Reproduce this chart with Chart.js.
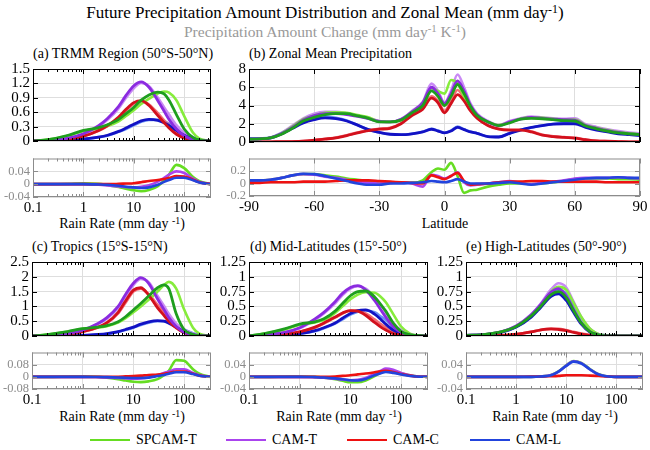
<!DOCTYPE html>
<html>
<head>
<meta charset="utf-8">
<script src="https://cdn.jsdelivr.net/npm/chart.js@4.4.0/dist/chart.umd.min.js"></script>
<style>
  body { margin: 0; width: 650px; height: 450px; position: relative; overflow: hidden; background: #fff;
         font-family: 'Liberation Serif', 'Times New Roman', Times, 'DejaVu Serif', 'Noto Serif', serif; color: #000; }
  canvas { position: absolute; }
  .txt { position: absolute; white-space: nowrap; }
  .sup { font-size: 70%; position: relative; top: -0.45em; }
  .key { position: absolute; height: 2px; }
</style>
</head>
<body>
<div class="txt" style="left:0;width:650px;text-align:center;top:3px;font-size:17px;line-height:20px;">Future Precipitation Amount Distribution and Zonal Mean (mm day<span class="sup">-1</span>)</div>
<div class="txt" style="left:0;width:650px;text-align:center;top:23px;font-size:15.5px;line-height:18px;color:#999;">Precipitation Amount Change (mm day<span class="sup">-1</span> K<span class="sup">-1</span>)</div>

<div class="txt" style="left:33px;top:46px;font-size:14px;line-height:16px;">(a) TRMM Region (50°S-50°N)</div>
<div class="txt" style="left:249px;top:46px;font-size:14px;line-height:16px;">(b) Zonal Mean Precipitation</div>
<div class="txt" style="left:32px;top:239px;font-size:14px;line-height:16px;">(c) Tropics (15°S-15°N)</div>
<div class="txt" style="left:250px;top:239px;font-size:14px;line-height:16px;">(d) Mid-Latitudes (15°-50°)</div>
<div class="txt" style="left:466px;top:239px;font-size:14px;line-height:16px;">(e) High-Latitudes (50°-90°)</div>

<div class="txt" style="left:22px;width:200px;text-align:center;top:216px;font-size:14px;line-height:16px;">Rain Rate (mm day <span class="sup">-1</span>)</div>
<div class="txt" style="left:345px;width:200px;text-align:center;top:216px;font-size:14px;line-height:16px;">Latitude</div>
<div class="txt" style="left:22px;width:200px;text-align:center;top:409px;font-size:14px;line-height:16px;">Rain Rate (mm day <span class="sup">-1</span>)</div>
<div class="txt" style="left:239px;width:200px;text-align:center;top:409px;font-size:14px;line-height:16px;">Rain Rate (mm day <span class="sup">-1</span>)</div>
<div class="txt" style="left:455px;width:200px;text-align:center;top:409px;font-size:14px;line-height:16px;">Rain Rate (mm day <span class="sup">-1</span>)</div>

<div id="legend"></div>

<script>
// ---- data ----
const models = ['SPCAM-T', 'CAM-T', 'CAM-C', 'CAM-L'];
const rainRate = [0.1, 0.2, 0.5, 1, 2, 3, 5, 7, 10, 14, 20, 30, 40, 50, 70, 100, 150, 200, 340];
const latitude = [-90, -85, -80, -75, -70, -65, -60, -55, -50, -45, -40, -35, -30, -25, -20, -15, -10, -6, -3, 0,
  3, 6, 9, 12, 15, 20, 25, 30, 35, 40, 45, 50, 55, 60, 65, 70, 75, 80, 85, 90];

// (a) TRMM region
const trmmSpcamCtl = [0, 0.03, 0.12, 0.22, 0.28, 0.34, 0.45, 0.57, 0.70, 0.85, 0.96, 1.02, 0.98, 0.85, 0.55, 0.25, 0.07, 0.02, 0];
const trmmSpcamWarm = [0, 0.03, 0.11, 0.21, 0.26, 0.31, 0.41, 0.52, 0.64, 0.77, 0.88, 0.99, 1.03, 1.01, 0.85, 0.52, 0.17, 0.05, 0];
const trmmCamTCtl = [0, 0.01, 0.06, 0.15, 0.32, 0.47, 0.72, 0.95, 1.15, 1.23, 1.12, 0.84, 0.62, 0.45, 0.25, 0.11, 0.03, 0.01, 0];
const trmmCamTWarm = [0, 0.01, 0.06, 0.14, 0.30, 0.44, 0.68, 0.90, 1.10, 1.21, 1.14, 0.90, 0.70, 0.55, 0.33, 0.17, 0.06, 0.02, 0];
const trmmCamCCtl = [0, 0.01, 0.04, 0.10, 0.22, 0.32, 0.50, 0.66, 0.80, 0.84, 0.74, 0.53, 0.38, 0.27, 0.14, 0.06, 0.02, 0, 0];
const trmmCamCWarm = [0, 0.01, 0.04, 0.10, 0.21, 0.31, 0.48, 0.63, 0.78, 0.83, 0.76, 0.58, 0.43, 0.33, 0.19, 0.09, 0.03, 0.01, 0];
const trmmCamLCtl = [0, 0, 0.02, 0.04, 0.08, 0.12, 0.20, 0.27, 0.35, 0.42, 0.45, 0.43, 0.38, 0.32, 0.22, 0.12, 0.05, 0.02, 0];
const trmmCamLWarm = [0, 0, 0.02, 0.04, 0.08, 0.11, 0.19, 0.25, 0.33, 0.40, 0.44, 0.44, 0.41, 0.36, 0.27, 0.17, 0.08, 0.03, 0];
const trmmSpcamDiff = [0, 0, 0.001, 0.003, 0.001, -0.003, -0.009, -0.014, -0.019, -0.022, -0.018, -0.006, 0.012, 0.03, 0.06, 0.05, 0.022, 0.009, 0];
const trmmCamTDiff = [0, 0, 0, 0, -0.002, -0.004, -0.007, -0.009, -0.01, -0.008, -0.003, 0.008, 0.02, 0.03, 0.04, 0.035, 0.017, 0.007, 0];
const trmmCamCDiff = [0, 0, 0, 0, 0, 0, 0.001, 0.002, 0.003, 0.006, 0.01, 0.013, 0.016, 0.019, 0.025, 0.024, 0.014, 0.006, 0];
const trmmCamLDiff = [0, 0, 0, 0, -0.001, -0.002, -0.005, -0.008, -0.01, -0.012, -0.01, -0.002, 0.007, 0.013, 0.02, 0.02, 0.012, 0.005, 0];

// (b) zonal mean
const zonalSpcamCtl = [0.3, 0.35, 0.45, 0.85, 1.5, 2.3, 2.7, 3.0, 3.1, 3.1, 2.85, 2.6, 2.2, 2.2, 2.4, 3.2, 4.0, 5.6, 5.0, 4.0,
  5.0, 6.3, 5.3, 3.9, 2.9, 2.2, 1.8, 2.1, 2.5, 2.6, 2.55, 2.45, 2.35, 2.3, 1.75, 1.45, 1.2, 1.0, 0.9, 0.8];
const zonalSpcamWarm = [0.3, 0.35, 0.5, 0.95, 1.7, 2.5, 2.9, 3.2, 3.25, 3.2, 2.95, 2.7, 2.25, 2.2, 2.45, 3.3, 4.3, 5.9, 5.6, 5.3,
  6.8, 6.4, 5.0, 3.7, 2.9, 2.2, 1.85, 2.15, 2.55, 2.7, 2.65, 2.55, 2.45, 2.45, 1.85, 1.55, 1.3, 1.1, 0.95, 0.85];
const zonalCamTCtl = [0.3, 0.35, 0.45, 0.9, 1.6, 2.4, 2.9, 3.1, 3.1, 3.0, 2.8, 2.55, 2.25, 2.2, 2.5, 3.3, 4.3, 6.0, 5.3, 4.2,
  5.3, 6.7, 5.6, 4.0, 3.0, 2.2, 1.8, 2.2, 2.5, 2.7, 2.6, 2.5, 2.45, 2.4, 1.8, 1.5, 1.25, 1.05, 0.9, 0.8];
const zonalCamTWarm = [0.3, 0.35, 0.5, 1.0, 1.8, 2.6, 3.1, 3.3, 3.3, 3.15, 2.9, 2.6, 2.3, 2.2, 2.5, 3.4, 4.4, 6.4, 5.6, 4.3,
  5.6, 7.4, 6.0, 4.2, 3.1, 2.3, 1.85, 2.3, 2.6, 2.8, 2.7, 2.6, 2.55, 2.6, 1.95, 1.65, 1.4, 1.2, 1.05, 0.95];
const zonalCamCCtl = [0, 0, 0.02, 0.03, 0.05, 0.1, 0.2, 0.32, 0.45, 0.7, 1.0, 1.25, 1.4, 1.5, 2.0, 2.9, 3.6, 4.8, 4.3, 3.2,
  4.2, 5.2, 4.5, 3.4, 2.6, 1.8, 1.4, 1.3, 1.3, 1.1, 0.75, 0.6, 0.5, 0.42, 0.25, 0.12, 0.08, 0.05, 0.02, 0];
const zonalCamCWarm = [0, 0, 0.02, 0.03, 0.06, 0.11, 0.22, 0.35, 0.48, 0.74, 1.05, 1.3, 1.45, 1.55, 2.05, 3.0, 3.7, 5.0, 4.5, 3.4,
  4.5, 5.7, 4.8, 3.5, 2.65, 1.8, 1.45, 1.35, 1.35, 1.15, 0.8, 0.63, 0.53, 0.45, 0.28, 0.14, 0.09, 0.06, 0.03, 0.01];
const zonalCamLCtl = [0.35, 0.35, 0.45, 0.9, 1.5, 2.1, 2.45, 2.65, 2.55, 2.3, 1.85, 1.35, 1.05, 0.85, 0.8, 0.9, 1.1, 1.4, 1.2, 1.0,
  1.2, 1.6, 1.35, 1.1, 0.95, 0.6, 0.55, 0.95, 1.3, 1.6, 1.8, 1.95, 2.0, 2.0, 1.6, 1.3, 1.1, 0.9, 0.8, 0.7];
const zonalCamLWarm = [0.38, 0.4, 0.5, 1.0, 1.65, 2.25, 2.6, 2.8, 2.65, 2.35, 1.85, 1.35, 1.05, 0.85, 0.8, 0.9, 1.12, 1.45, 1.25, 1.02,
  1.25, 1.7, 1.4, 1.12, 0.95, 0.6, 0.56, 0.97, 1.33, 1.58, 1.8, 1.97, 2.05, 2.1, 1.7, 1.4, 1.2, 1.0, 0.9, 0.8];
const zonalSpcamDiff = [0.04, 0.05, 0.06, 0.09, 0.13, 0.15, 0.15, 0.13, 0.11, 0.08, 0.06, 0.04, 0.02, 0.01, 0.02, 0.01, 0.05, 0.18, 0.24, 0.22,
  0.33, 0.12, -0.15, -0.11, -0.1, -0.05, -0.02, 0, 0, -0.01, 0, 0.02, 0.04, 0.07, 0.08, 0.08, 0.08, 0.07, 0.07, 0.06];
const zonalCamTDiff = [0.04, 0.05, 0.06, 0.09, 0.13, 0.15, 0.14, 0.11, 0.09, 0.06, 0.03, 0.01, 0, 0.01, 0.02, 0, -0.05, 0.14, 0.12, 0.08,
  0.12, 0.18, 0.02, -0.03, -0.02, 0, 0.02, 0.04, 0.01, -0.01, 0.01, 0.03, 0.05, 0.08, 0.09, 0.09, 0.09, 0.1, 0.09, 0.08];
const zonalCamCDiff = [0.01, 0.01, 0.02, 0.02, 0.02, 0.03, 0.03, 0.03, 0.04, 0.05, 0.05, 0.05, 0.04, 0.03, 0.02, 0.01, 0, 0.13, 0.1, 0.07,
  0.12, 0.17, 0.04, -0.02, -0.01, 0, 0.02, 0.03, 0.03, 0.04, 0.04, 0.03, 0.03, 0.03, 0.03, 0.03, 0.02, 0.02, 0.02, 0.02];
const zonalCamLDiff = [0.05, 0.05, 0.06, 0.09, 0.13, 0.155, 0.15, 0.12, 0.08, 0.04, 0, -0.02, -0.02, 0, 0, 0.01, 0.02, 0.04, 0.03, 0.02,
  0.04, 0.07, 0.03, 0, 0, 0, 0.01, 0.02, 0, -0.02, 0, 0.02, 0.04, 0.06, 0.08, 0.09, 0.09, 0.1, 0.09, 0.09];

// (c) tropics
const tropSpcamCtl = [0, 0.05, 0.15, 0.25, 0.3, 0.35, 0.48, 0.65, 0.88, 1.1, 1.35, 1.63, 1.73, 1.6, 0.75, 0.22, 0.05, 0.01, 0];
const tropSpcamWarm = [0, 0.05, 0.14, 0.24, 0.28, 0.33, 0.45, 0.6, 0.8, 1.0, 1.22, 1.5, 1.72, 1.83, 1.6, 0.9, 0.28, 0.08, 0];
const tropCamTCtl = [0, 0.02, 0.08, 0.2, 0.42, 0.62, 1.0, 1.4, 1.78, 1.97, 1.78, 1.25, 0.9, 0.62, 0.32, 0.13, 0.04, 0.01, 0];
const tropCamTWarm = [0, 0.02, 0.08, 0.19, 0.4, 0.58, 0.95, 1.33, 1.72, 1.93, 1.82, 1.35, 1.02, 0.75, 0.42, 0.22, 0.08, 0.03, 0];
const tropCamCCtl = [0, 0.01, 0.06, 0.15, 0.3, 0.45, 0.8, 1.18, 1.55, 1.63, 1.38, 0.95, 0.7, 0.5, 0.27, 0.11, 0.03, 0.01, 0];
const tropCamCWarm = [0, 0.01, 0.06, 0.14, 0.29, 0.43, 0.76, 1.12, 1.5, 1.6, 1.42, 1.05, 0.8, 0.6, 0.36, 0.18, 0.06, 0.02, 0];
const tropCamLCtl = [0, 0, 0.01, 0.02, 0.05, 0.08, 0.15, 0.22, 0.3, 0.4, 0.48, 0.52, 0.5, 0.43, 0.3, 0.15, 0.05, 0.02, 0];
const tropCamLWarm = [0, 0, 0.01, 0.02, 0.05, 0.07, 0.14, 0.2, 0.28, 0.37, 0.45, 0.5, 0.5, 0.47, 0.36, 0.22, 0.09, 0.03, 0];
const tropSpcamDiff = [0, 0, 0.002, 0.004, 0.001, -0.005, -0.015, -0.024, -0.032, -0.035, -0.03, -0.015, 0.01, 0.04, 0.11, 0.105, 0.05, 0.02, 0];
const tropCamTDiff = [0, 0, 0, 0, -0.002, -0.004, -0.008, -0.01, -0.012, -0.01, -0.004, 0.01, 0.025, 0.035, 0.05, 0.05, 0.025, 0.01, 0];
const tropCamCDiff = [0, 0, 0, 0, 0, 0, 0.001, 0.003, 0.005, 0.008, 0.012, 0.015, 0.02, 0.025, 0.035, 0.035, 0.02, 0.008, 0];
const tropCamLDiff = [0, 0, 0, 0, -0.001, -0.002, -0.004, -0.006, -0.008, -0.008, -0.005, 0.005, 0.012, 0.02, 0.03, 0.03, 0.018, 0.007, 0];

// (d) mid-latitudes
const midSpcamCtl = [0, 0.04, 0.12, 0.2, 0.24, 0.29, 0.42, 0.55, 0.68, 0.75, 0.76, 0.66, 0.53, 0.42, 0.22, 0.08, 0.02, 0.01, 0];
const midSpcamWarm = [0, 0.04, 0.11, 0.19, 0.23, 0.27, 0.39, 0.5, 0.62, 0.7, 0.74, 0.73, 0.66, 0.57, 0.37, 0.16, 0.04, 0.01, 0];
const midCamTCtl = [0, 0.02, 0.06, 0.14, 0.29, 0.4, 0.58, 0.72, 0.82, 0.85, 0.78, 0.6, 0.44, 0.32, 0.16, 0.06, 0.02, 0, 0];
const midCamTWarm = [0, 0.02, 0.06, 0.13, 0.27, 0.38, 0.55, 0.69, 0.8, 0.84, 0.8, 0.66, 0.52, 0.4, 0.22, 0.1, 0.03, 0.01, 0];
const midCamCCtl = [0, 0.01, 0.03, 0.07, 0.15, 0.22, 0.32, 0.39, 0.43, 0.42, 0.35, 0.23, 0.15, 0.1, 0.04, 0.02, 0, 0, 0];
const midCamCWarm = [0, 0.01, 0.03, 0.07, 0.14, 0.21, 0.31, 0.38, 0.43, 0.43, 0.38, 0.28, 0.2, 0.14, 0.07, 0.03, 0.01, 0, 0];
const midCamLCtl = [0, 0, 0.02, 0.04, 0.09, 0.14, 0.22, 0.3, 0.38, 0.43, 0.44, 0.37, 0.28, 0.2, 0.1, 0.04, 0.01, 0, 0];
const midCamLWarm = [0, 0, 0.02, 0.04, 0.08, 0.13, 0.21, 0.28, 0.36, 0.41, 0.43, 0.4, 0.33, 0.27, 0.15, 0.07, 0.02, 0.01, 0];
const midSpcamDiff = [0, 0, 0.001, 0.002, 0, -0.003, -0.008, -0.013, -0.018, -0.018, -0.012, 0.002, 0.015, 0.023, 0.02, 0.012, 0.005, 0.002, 0];
const midCamTDiff = [0, 0, 0, 0, -0.001, -0.003, -0.006, -0.009, -0.011, -0.01, -0.004, 0.01, 0.02, 0.027, 0.023, 0.013, 0.005, 0.002, 0];
const midCamCDiff = [0, 0, 0, 0, 0, 0, 0.001, 0.003, 0.005, 0.008, 0.011, 0.015, 0.018, 0.02, 0.016, 0.009, 0.004, 0.001, 0];
const midCamLDiff = [0, 0, 0, 0, -0.001, -0.002, -0.005, -0.008, -0.011, -0.012, -0.007, 0.005, 0.012, 0.016, 0.013, 0.008, 0.003, 0.001, 0];

// (e) high-latitudes
const highSpcamCtl = [0.01, 0.02, 0.07, 0.16, 0.34, 0.49, 0.7, 0.75, 0.65, 0.43, 0.22, 0.07, 0.03, 0.01, 0, 0, 0, 0, 0];
const highSpcamWarm = [0.01, 0.02, 0.07, 0.16, 0.35, 0.5, 0.75, 0.83, 0.78, 0.56, 0.32, 0.12, 0.05, 0.02, 0.01, 0, 0, 0, 0];
const highCamTCtl = [0.01, 0.02, 0.07, 0.17, 0.36, 0.52, 0.74, 0.8, 0.68, 0.45, 0.22, 0.07, 0.03, 0.01, 0, 0, 0, 0, 0];
const highCamTWarm = [0.01, 0.02, 0.07, 0.17, 0.37, 0.53, 0.79, 0.89, 0.82, 0.58, 0.32, 0.12, 0.05, 0.02, 0.01, 0, 0, 0, 0];
const highCamCCtl = [0, 0, 0.01, 0.03, 0.07, 0.1, 0.12, 0.11, 0.09, 0.06, 0.03, 0.01, 0, 0, 0, 0, 0, 0, 0];
const highCamCWarm = [0, 0, 0.01, 0.03, 0.07, 0.1, 0.12, 0.12, 0.1, 0.07, 0.04, 0.02, 0.01, 0, 0, 0, 0, 0, 0];
const highCamLCtl = [0.01, 0.02, 0.06, 0.15, 0.32, 0.47, 0.67, 0.71, 0.6, 0.4, 0.2, 0.06, 0.02, 0.01, 0, 0, 0, 0, 0];
const highCamLWarm = [0.01, 0.02, 0.06, 0.15, 0.33, 0.48, 0.71, 0.77, 0.72, 0.52, 0.3, 0.11, 0.04, 0.02, 0.01, 0, 0, 0, 0];
const highSpcamDiff = [0, 0, 0, 0, 0, 0.001, 0.006, 0.018, 0.038, 0.052, 0.046, 0.025, 0.012, 0.006, 0.001, 0, 0, 0, 0];
const highCamTDiff = [0, 0, 0, 0, 0, 0.001, 0.006, 0.017, 0.037, 0.051, 0.045, 0.024, 0.011, 0.005, 0.001, 0, 0, 0, 0];
const highCamCDiff = [0, 0, 0, 0, 0.001, 0.001, 0.002, 0.003, 0.005, 0.005, 0.005, 0.004, 0.003, 0.002, 0.001, 0, 0, 0, 0];
const highCamLDiff = [0, 0, 0, 0, 0, 0.001, 0.005, 0.017, 0.036, 0.05, 0.044, 0.024, 0.011, 0.005, 0.001, 0, 0, 0, 0];

// ticks
const rainTicks = [0.1, 1, 10, 100];
const rainMinor = [0.2, 0.3, 0.4, 0.5, 0.6, 0.7, 0.8, 0.9, 2, 3, 4, 5, 6, 7, 8, 9,
  20, 30, 40, 50, 60, 70, 80, 90, 200, 300];
const latTicks = [-90, -60, -30, 0, 30, 60, 90];
const trmmTicks = [0, 0.3, 0.6, 0.9, 1.2, 1.5];
const zonalTicks = [0, 2, 4, 6, 8];
const tropTicks = [0, 0.5, 1, 1.5, 2, 2.5];
const extraTicks = [0, 0.25, 0.5, 0.75, 1, 1.25];
const diffTicksSmall = [-0.04, 0, 0.04];
const diffTicksZonal = [-0.2, 0, 0.2];
const diffTicksTrop = [-0.08, 0, 0.08];

const ctlColors = ['#1e9e1e', '#8b2be0', '#d2101c', '#1212c4'];
const warmColors = ['#86ec3c', '#c98af5', '#f36a74', '#6a90f5'];
const diffColors = ['#66dd22', '#aa44ee', '#ee1111', '#2244dd'];

Chart.defaults.font.family = "'Liberation Serif', 'Times New Roman', Times, 'DejaVu Serif', 'Noto Serif', serif";

const frameTicks = {
  id: 'frameTicks',
  afterDraw(chart, args, o) {
    const { ctx, chartArea: a, scales: { x, y } } = chart;
    ctx.save();
    ctx.strokeStyle = o.color;
    ctx.lineWidth = 1;
    ctx.beginPath();
    const vert = (vals, len) => vals.forEach((v) => {
      const px = Math.round(x.getPixelForValue(v)) + 0.5;
      ctx.moveTo(px, a.top); ctx.lineTo(px, a.top + len);
      ctx.moveTo(px, a.bottom); ctx.lineTo(px, a.bottom - len);
    });
    vert(o.xMajor, 5);
    vert(o.xMinor, 3);
    o.yMajor.forEach((v) => {
      const py = Math.round(y.getPixelForValue(v)) + 0.5;
      ctx.moveTo(a.left, py); ctx.lineTo(a.left + 5, py);
      ctx.moveTo(a.right, py); ctx.lineTo(a.right - 5, py);
    });
    ctx.stroke();
    ctx.strokeRect(a.left + 0.5, a.top + 0.5, a.width - 1, a.height - 1);
    ctx.restore();
  }
};

function pts(xs, ys) {
  return xs.map((x, i) => ({ x, y: ys[i] }));
}

function makePanel(box, cfg) {
  const [l, t, r, b] = box;
  const yw = 40, pt = 8, pr = 12, pb = 2;
  const xh = cfg.xLabels ? 20 : 0;
  const cv = document.createElement('canvas');
  cv.width = r - l + yw + pr;
  cv.height = b - t + pt + xh + pb;
  cv.style.left = (l - yw) + 'px';
  cv.style.top = (t - pt) + 'px';
  document.body.appendChild(cv);
  const frame = cfg.diff ? '#8c8c8c' : '#000';
  return new Chart(cv, {
    type: 'line',
    data: { datasets: cfg.datasets },
    options: {
      responsive: false,
      animation: false,
      events: [],
      layout: { padding: { left: 0, top: pt, right: pr, bottom: pb }, autoPadding: false },
      plugins: {
        legend: { display: false },
        tooltip: { enabled: false },
        frameTicks: { color: frame, xMajor: cfg.xTicks, xMinor: cfg.xMinor, yMajor: cfg.yTicks }
      },
      elements: { point: { radius: 0 }, line: { cubicInterpolationMode: 'monotone' } },
      scales: {
        x: {
          type: cfg.xType, min: cfg.xMin, max: cfg.xMax,
          afterFit: (s) => { s.height = xh; },
          afterBuildTicks: (s) => { s.ticks = cfg.xTicks.map((v) => ({ value: v })); },
          grid: { color: '#dedede', drawTicks: false },
          border: { display: false },
          ticks: {
            display: !!cfg.xLabels, color: '#000', font: { size: 15 }, padding: 2,
            maxRotation: 0, autoSkip: false, callback: (v) => String(v)
          }
        },
        y: {
          min: cfg.yMin, max: cfg.yMax,
          afterFit: (s) => { s.width = yw; },
          afterBuildTicks: (s) => { s.ticks = cfg.yTicks.map((v) => ({ value: v })); },
          grid: { color: '#dedede', drawTicks: false },
          border: { display: false },
          ticks: {
            color: cfg.diff ? '#8c8c8c' : '#000', font: { size: cfg.diff ? 12.5 : 15 }, padding: 3,
            autoSkip: false, callback: (v) => String(v)
          }
        }
      }
    },
    plugins: [frameTicks]
  });
}

function mainSets(xs, ctl, warm) {
  const sets = [];
  ctl.forEach((ys, i) => {
    sets.push({ data: pts(xs, warm[i]), borderColor: warmColors[i], borderWidth: 2.6, order: 10 + i });
  });
  ctl.forEach((ys, i) => {
    sets.push({ data: pts(xs, ys), borderColor: ctlColors[i], borderWidth: 2.8, order: 1 + i });
  });
  return sets;
}

function diffSets(xs, diffs) {
  return diffs.map((ys, i) => ({ data: pts(xs, ys), borderColor: diffColors[i], borderWidth: 2.6, order: 4 - i }));
}

const logMain = { xType: 'logarithmic', xMin: 0.1, xMax: 340, xTicks: rainTicks, xMinor: rainMinor };

// (a)
makePanel([33, 65, 211, 151], Object.assign({}, logMain, {
  yMin: 0, yMax: 1.5, yTicks: trmmTicks,
  datasets: mainSets(rainRate,
    [trmmSpcamCtl, trmmCamTCtl, trmmCamCCtl, trmmCamLCtl],
    [trmmSpcamWarm, trmmCamTWarm, trmmCamCWarm, trmmCamLWarm])
}));
makePanel([33, 156, 211, 197], Object.assign({}, logMain, {
  diff: true, xLabels: true, yMin: -0.04, yMax: 0.08, yTicks: diffTicksSmall,
  datasets: diffSets(rainRate, [trmmSpcamDiff, trmmCamTDiff, trmmCamCDiff, trmmCamLDiff])
}));

// (b)
const latAxis = { xType: 'linear', xMin: -90, xMax: 90, xTicks: latTicks, xMinor: [] };
makePanel([249, 65, 640, 152], Object.assign({}, latAxis, {
  yMin: 0, yMax: 8, yTicks: zonalTicks,
  datasets: mainSets(latitude,
    [zonalSpcamCtl, zonalCamTCtl, zonalCamCCtl, zonalCamLCtl],
    [zonalSpcamWarm, zonalCamTWarm, zonalCamCWarm, zonalCamLWarm])
}));
makePanel([249, 156, 640, 196], Object.assign({}, latAxis, {
  diff: true, xLabels: true, yMin: -0.2, yMax: 0.4, yTicks: diffTicksZonal,
  datasets: diffSets(latitude, [zonalSpcamDiff, zonalCamTDiff, zonalCamCDiff, zonalCamLDiff])
}));

// (c)
makePanel([32, 258, 211, 346], Object.assign({}, logMain, {
  yMin: 0, yMax: 2.5, yTicks: tropTicks,
  datasets: mainSets(rainRate,
    [tropSpcamCtl, tropCamTCtl, tropCamCCtl, tropCamLCtl],
    [tropSpcamWarm, tropCamTWarm, tropCamCWarm, tropCamLWarm])
}));
makePanel([32, 350, 211, 389], Object.assign({}, logMain, {
  diff: true, xLabels: true, yMin: -0.08, yMax: 0.16, yTicks: diffTicksTrop,
  datasets: diffSets(rainRate, [tropSpcamDiff, tropCamTDiff, tropCamCDiff, tropCamLDiff])
}));

// (d)
makePanel([249, 258, 428, 346], Object.assign({}, logMain, {
  yMin: 0, yMax: 1.25, yTicks: extraTicks,
  datasets: mainSets(rainRate,
    [midSpcamCtl, midCamTCtl, midCamCCtl, midCamLCtl],
    [midSpcamWarm, midCamTWarm, midCamCWarm, midCamLWarm])
}));
makePanel([249, 350, 428, 389], Object.assign({}, logMain, {
  diff: true, xLabels: true, yMin: -0.04, yMax: 0.08, yTicks: diffTicksSmall,
  datasets: diffSets(rainRate, [midSpcamDiff, midCamTDiff, midCamCDiff, midCamLDiff])
}));

// (e)
makePanel([466, 258, 643, 346], Object.assign({}, logMain, {
  yMin: 0, yMax: 1.25, yTicks: extraTicks,
  datasets: mainSets(rainRate,
    [highSpcamCtl, highCamTCtl, highCamCCtl, highCamLCtl],
    [highSpcamWarm, highCamTWarm, highCamCWarm, highCamLWarm])
}));
makePanel([466, 350, 643, 389], Object.assign({}, logMain, {
  diff: true, xLabels: true, yMin: -0.04, yMax: 0.08, yTicks: diffTicksSmall,
  datasets: diffSets(rainRate, [highSpcamDiff, highCamTDiff, highCamCDiff, highCamLDiff])
}));

// legend
const legendX = [90, 226, 347, 470];
const legend = document.getElementById('legend');
models.forEach((m, i) => {
  const line = document.createElement('div');
  line.className = 'key';
  line.style.cssText = `left:${legendX[i]}px;top:439px;width:40px;background:${diffColors[i]};`;
  legend.appendChild(line);
  const label = document.createElement('div');
  label.className = 'txt';
  label.style.cssText = `left:${legendX[i] + 46}px;top:432px;font-size:14px;line-height:16px;`;
  label.textContent = m;
  legend.appendChild(label);
});
</script>
</body>
</html>
